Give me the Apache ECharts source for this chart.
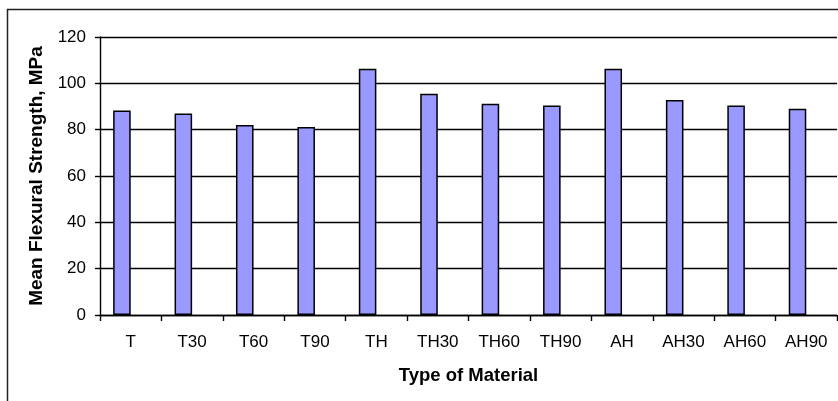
<!DOCTYPE html>
<html>
<head>
<meta charset="utf-8">
<script src="https://cdn.jsdelivr.net/npm/echarts@6/dist/echarts.min.js"></script>
<style>
  html, body { margin: 0; padding: 0; background: #fff; }
  #chart { width: 838px; height: 401px; }
</style>
</head>
<body>
<div id="chart"></div>
<script>
// Material types along the category axis
const materials = ['T', 'T30', 'T60', 'T90', 'TH', 'TH30', 'TH60', 'TH90', 'AH', 'AH30', 'AH60', 'AH90'];
// Mean flexural strength per material (MPa)
const meanStrength = [88.3, 87.0, 82.0, 81.2, 106.3, 95.5, 91.2, 90.4, 106.3, 92.8, 90.4, 89.0];
// Empty companion series that reserves the second slot in each cluster
const emptySlot = [null, null, null, null, null, null, null, null, null, null, null, null];
// Value axis ticks
const strengthTicks = [0, 20, 40, 60, 80, 100, 120];

const chart = echarts.init(document.getElementById('chart'), null, { renderer: 'canvas' });

const font = 'Liberation Sans, Arial, sans-serif';

chart.setOption({
  backgroundColor: '#ffffff',
  animation: false,
  graphic: [{
    type: 'rect',
    shape: { x: 7.5, y: 9.5, width: 900, height: 500 },
    style: { fill: 'none', stroke: '#222', lineWidth: 1.5 },
    silent: true,
    z: -1
  }],
  grid: { left: 100, right: 1, top: 37, bottom: 86, containLabel: false },
  xAxis: {
    type: 'category',
    data: materials,
    boundaryGap: true,
    name: 'Type of Material',
    nameLocation: 'middle',
    nameGap: 51,
    nameTextStyle: { fontFamily: font, fontSize: 18.5, fontWeight: 'bold', color: '#000' },
    axisLine: { lineStyle: { color: '#000', width: 1.4 } },
    axisTick: { show: true, length: 6, lineStyle: { color: '#000', width: 1.4 } },
    axisLabel: { fontFamily: font, fontSize: 17, color: '#000', margin: 19, interval: 0 },
    splitLine: { show: false }
  },
  yAxis: {
    type: 'value',
    min: strengthTicks[0],
    max: strengthTicks[strengthTicks.length - 1],
    interval: strengthTicks[1] - strengthTicks[0],
    name: 'Mean Flexural Strength, MPa',
    nameLocation: 'middle',
    nameGap: 54,
    nameTextStyle: { fontFamily: font, fontSize: 19, fontWeight: 'bold', color: '#000' },
    axisLine: { show: true, lineStyle: { color: '#000', width: 1.4 } },
    axisTick: { show: true, length: 5, lineStyle: { color: '#000', width: 1.4 } },
    axisLabel: { fontFamily: font, fontSize: 17, color: '#000', margin: 14 },
    splitLine: { show: true, lineStyle: { color: '#000', width: 1.4 } }
  },
  series: [
    {
      name: 'Mean flexural strength',
      type: 'bar',
      data: meanStrength,
      barGap: '0%',
      barCategoryGap: '42.8%',
      itemStyle: { color: '#9999ff', borderColor: '#000', borderWidth: 1.5 }
    },
    {
      name: 'Reserved',
      type: 'bar',
      data: emptySlot,
      barGap: '0%',
      barCategoryGap: '42.8%',
      itemStyle: { color: '#9999ff', borderColor: '#000', borderWidth: 1.5 }
    }
  ]
});
</script>
</body>
</html>
